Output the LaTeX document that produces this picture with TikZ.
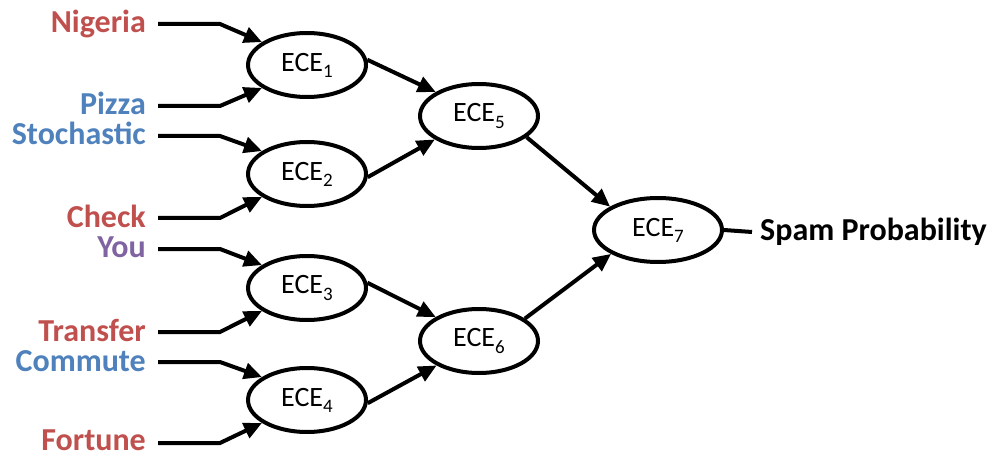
\documentclass[tikz,border=0pt]{standalone}
\usepackage{fontspec}
\setmainfont{Carlito}
\usetikzlibrary{shapes.geometric,arrows.meta}
\definecolor{cred}{HTML}{C0504D}
\definecolor{cblue}{HTML}{4F81BD}
\definecolor{cpurple}{HTML}{8064A2}
\newcommand{\ece}[1]{ECE\raisebox{-0.22em}{\fontsize{19}{19}\selectfont #1}}
\tikzset{
  ece/.style={ellipse, draw, line width=4pt, minimum width=118pt, minimum height=64pt, inner sep=0pt, font=\fontsize{28}{28}\selectfont},
  lab/.style={anchor=base east, inner sep=0pt, font=\fontsize{32}{32}\selectfont\bfseries},
  conn/.style={line width=4pt, -{Triangle[length=18pt,width=16pt]}, line join=miter},
  plain/.style={line width=4pt}
}
\begin{document}
\begin{tikzpicture}[x=1pt,y=-1pt]
\useasboundingbox (0,0) rectangle (993,457);
% ellipses
\node[ece] (E1) at (307,65) {\ece{1}};
\node[ece] (E2) at (307,174) {\ece{2}};
\node[ece] (E3) at (307,288) {\ece{3}};
\node[ece] (E4) at (307,400) {\ece{4}};
\node[ece] (E5) at (479,116) {\ece{5}};
\node[ece] (E6) at (479,341) {\ece{6}};
\node[ece, minimum width=128pt] (E7) at (658,230) {\ece{7}};
% labels
\node[lab, text=cred] (L1) at (146,33) {Nigeria};
\node[lab, text=cblue] (L2) at (146,115) {Pizza};
\node[lab, text=cblue] (L3) at (146,145) {Stochastic};
\node[lab, text=cred] (L4) at (146,227) {Check};
\node[lab, text=cpurple] (L5) at (146,258) {You};
\node[lab, text=cred] (L6) at (146,341) {Transfer};
\node[lab, text=cblue] (L7) at (146,371) {Commute};
\node[lab, text=cred] (L8) at (146,450) {Fortune};
\node[anchor=west, inner sep=0pt, font=\fontsize{32}{32}\selectfont\bfseries] (S) at (760,232) {Spam Probability};
% input connectors
\draw[conn] ([shift={(12,-9)}]L1.base east) -- ++(62,0) -- (E1.153);
\draw[conn] ([shift={(12,-9)}]L2.base east) -- ++(62,0) -- (E1.207);
\draw[conn] ([shift={(12,-9)}]L3.base east) -- ++(62,0) -- (E2.153);
\draw[conn] ([shift={(12,-9)}]L4.base east) -- ++(62,0) -- (E2.207);
\draw[conn] ([shift={(12,-9)}]L5.base east) -- ++(62,0) -- (E3.153);
\draw[conn] ([shift={(12,-9)}]L6.base east) -- ++(62,0) -- (E3.207);
\draw[conn] ([shift={(12,-9)}]L7.base east) -- ++(62,0) -- (E4.153);
\draw[conn] ([shift={(12,-7)}]L8.base east) -- ++(62,0) -- (E4.207);
% inner connectors
\draw[conn] (E1.5) -- (E5.151);
\draw[conn] (E2.-3) -- (E5.208);
\draw[conn] (E3.5) -- (E6.151);
\draw[conn] (E4.-3) -- (E6.210);
\draw[conn] (E5.-24) -- (E7.154);
\draw[conn] (E6.26) -- (E7.207);
\draw[plain] (E7.east) -- ([xshift=-8pt]S.west);
\end{tikzpicture}
\end{document}
